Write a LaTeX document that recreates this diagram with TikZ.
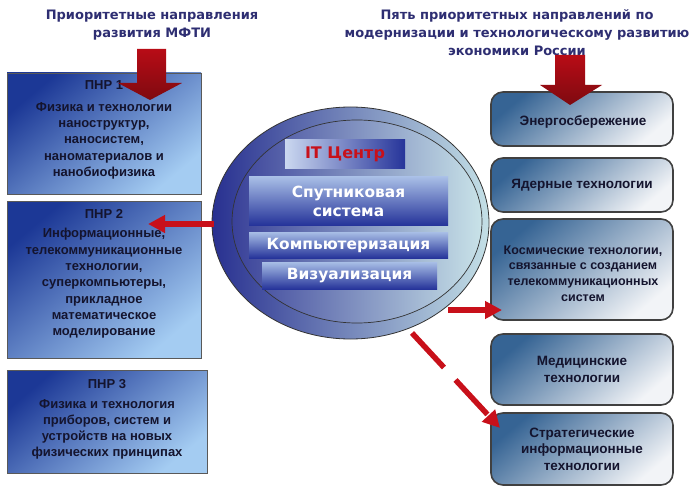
\documentclass[tikz,border=0pt]{standalone}
\usepackage{fontspec}
\setmainfont{Liberation Sans}
\newfontfamily\dv{DejaVu Sans}
\usetikzlibrary{shapes.geometric,arrows.meta}
\definecolor{titlec}{HTML}{2E2E72}
\definecolor{pnrdark}{HTML}{1C3896}
\definecolor{pnrlight}{HTML}{A4CCF2}
\definecolor{rbdark}{HTML}{366494}
\definecolor{rblight}{HTML}{F2F4F7}
\definecolor{arrred}{HTML}{C8101A}
\definecolor{blkred}{HTML}{B80C16}
\definecolor{blkdark}{HTML}{7E0A10}
\definecolor{circdark}{HTML}{283090}
\definecolor{circlight}{HTML}{C4E0E6}
\definecolor{banddark}{HTML}{26349A}
\definecolor{bandlight}{HTML}{A8BEE6}
\definecolor{txtdark}{HTML}{14142E}
\tikzset{
  pnrbox/.style={draw=black!65, line width=0.8pt, top color=pnrdark, bottom color=pnrlight, shading angle=40,
    minimum width=194pt, inner sep=0pt},
  pnrtext/.style={align=center, text=txtdark, font=\bfseries\fontsize{13}{16.3}\selectfont, inner sep=0pt},
  rbox/.style={draw=black!75, line width=1.6pt, rounded corners=12pt, top color=rbdark, bottom color=rblight, shading angle=40,
    minimum width=182pt, align=center, text=txtdark, font=\bfseries\fontsize{13.5}{16.5}\selectfont, inner sep=0pt},
  rtext/.style={align=center, text=txtdark, font=\bfseries\fontsize{12.5}{15.7}\selectfont, inner sep=0pt},
  band/.style={top color=bandlight, bottom color=banddark, inner sep=0pt, text=white, align=center,
    font=\dv\bfseries\fontsize{15.4}{19}\selectfont},
  ttl/.style={align=center, text=titlec, font=\dv\bfseries\fontsize{13}{18}\selectfont},
  redarrow/.style={draw=arrred, line width=5.5pt, -{Triangle[length=17pt,width=17pt]}},
  blockarrow/.style={top color=blkred, bottom color=blkdark, draw=none}
}
\begin{document}
\begin{tikzpicture}[x=1pt,y=-1pt]
\useasboundingbox (0,0) rectangle (691,500);
\fill[white] (0,0) rectangle (691,500);
% titles
\node[ttl] (tl) at (152,25) {Приоритетные направления\\развития МФТИ};
\node[ttl] (tr) at (517,33) {Пять приоритетных направлений по\\модернизации и технологическому развитию\\экономики России};
% left boxes
\node[pnrbox, minimum height=121pt] (p1) at (104,133.5) {};
\node[pnrtext] (p1t) at (104,130) {ПНР 1\\[5pt]Физика и технологии\\наноструктур,\\наносистем,\\наноматериалов и\\нанобиофизика};
\node[pnrbox, minimum height=157pt] (p2) at (104,279.5) {};
\node[pnrtext] (p2t) at (104,274) {ПНР 2\\[3pt]Информационные,\\телекоммуникационные\\технологии,\\суперкомпьютеры,\\прикладное\\математическое\\моделирование};
\node[pnrbox, minimum width=200pt, minimum height=103pt] (p3) at (107,421.5) {};
\node[pnrtext, font=\bfseries\fontsize{13}{16}\selectfont] (p3t) at (107,419.5) {ПНР 3\\[4pt]Физика и технология\\приборов, систем и\\устройств на новых\\физических принципах};
% right boxes
\node[rbox, minimum height=54pt] (r1) at (582,119) {};
\node[rtext, font=\bfseries\fontsize{13.5}{16.5}\selectfont] (r1t) at (583,122) {Энергосбережение};
\node[rbox, minimum height=54pt] (r2) at (582,185) {Ядерные технологии};
\node[rbox, minimum height=101pt] (r3) at (582,269.5) {};
\node[rtext] (r3t) at (583,273.5) {Космические технологии,\\связанные с созданием\\телекоммуникационных\\систем};
\node[rbox, minimum height=71pt] (r4) at (582,369.5) {Медицинские\\технологии};
\node[rbox, minimum height=72pt] (r5) at (582,449) {Стратегические\\информационные\\технологии};
% circle
\node[ellipse, draw=black!80, line width=0.8pt, minimum width=277pt, minimum height=232pt, inner sep=0pt,
  left color=circdark, right color=circlight] (circ) at (350.5,223) {};
\node[ellipse, draw=black!80, line width=0.7pt, minimum width=250pt, minimum height=203pt, inner sep=0pt,
  left color=circdark!92, right color=circlight!92!white] (incirc) at (357,221.5) {};
\node[left color=bandlight!60!white, right color=banddark, minimum width=120pt, minimum height=29pt, inner sep=0pt,
  text=arrred, font=\dv\bfseries\fontsize{16}{19}\selectfont] (it) at (345,154.5) {IT Центр};
\node[band, minimum width=199pt, minimum height=48pt] (b1) at (348.5,201) {Спутниковая\\система};
\node[band, minimum width=199pt, minimum height=26pt] (b2) at (348.5,245) {Компьютеризация};
\node[band, minimum width=175pt, minimum height=27pt] (b3) at (349.5,275.5) {Визуализация};
% block arrows
\path[blockarrow] (137,49) -- (166,49) -- (166,83) -- (182,83) -- (150,100) -- (118,83) -- (137,83) -- cycle;
\path[blockarrow] (555,55) -- (585,55) -- (585,85) -- (602,85) -- (570,105) -- (540,85) -- (555,85) -- cycle;
% connectors
\coordinate (p2tip) at (148,224);
\coordinate (r3tip) at (502,310);
\coordinate (r5tip) at (500,428);
\coordinate (cw) at (214,224);
\coordinate (ce) at (448,310);
\coordinate (cse) at (412,333);
\draw[redarrow] (cw) -- (p2tip);
\draw[redarrow] (ce) -- (r3tip);
\draw[redarrow, dash pattern=on 47pt off 17pt] (cse) -- (r5tip);
\end{tikzpicture}
\end{document}
